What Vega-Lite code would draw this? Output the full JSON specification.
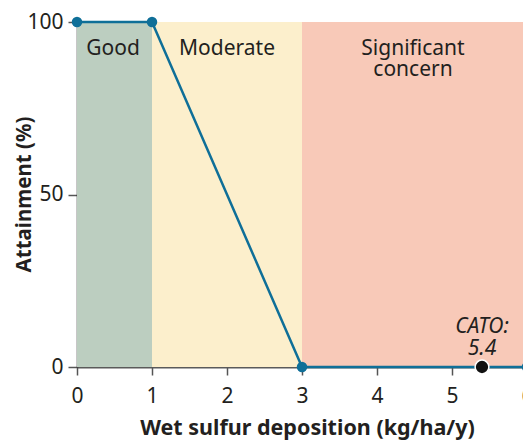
{
  "$schema": "https://vega.github.io/schema/vega-lite/v6.json",
  "width": 446,
  "height": 345,
  "autosize": {"type": "none"},
  "padding": {"left": 77, "top": 22, "right": 0, "bottom": 74},
  "background": "white",
  "config": {
    "view": {"stroke": null},
    "font": "Noto Sans",
    "axis": {
      "grid": false,
      "labelFont": "Noto Sans",
      "labelFontSize": 21,
      "labelColor": "#231f20",
      "labelFlush": false,
      "titleFont": "Noto Sans",
      "titleFontWeight": "bold",
      "titleColor": "#231f20",
      "tickColor": "#555555",
      "tickWidth": 1.5
    }
  },
  "datasets": {
    "bands": [
      {"zone": "Good", "start": 0, "end": 1, "bottom": 0, "top": 100},
      {"zone": "Moderate", "start": 1, "end": 3, "bottom": 0, "top": 100},
      {"zone": "Significant concern", "start": 3, "end": 6, "bottom": 0, "top": 100}
    ],
    "curve": [
      {"deposition": 0, "attainment": 100},
      {"deposition": 1, "attainment": 100},
      {"deposition": 3, "attainment": 0},
      {"deposition": 6, "attainment": 0}
    ],
    "labels": [
      {"label": "Good", "deposition": 0.48, "attainment": 90.4},
      {"label": "Moderate", "deposition": 2.0, "attainment": 90.4},
      {"label": "Significant\nconcern", "deposition": 4.48, "attainment": 90.4}
    ],
    "cato": [
      {"deposition": 5.4, "attainment": 0, "label": "CATO:\n5.4"}
    ]
  },
  "layer": [
    {
      "data": {"name": "bands"},
      "mark": {"type": "rect"},
      "encoding": {
        "x": {
          "field": "start",
          "type": "quantitative",
          "scale": {"domain": [0, 6], "range": [0, 450], "nice": false, "zero": false},
          "axis": {
            "values": [0, 1, 2, 3, 4, 5, 6],
            "format": "d",
            "title": "Wet sulfur deposition (kg/ha/y)",
            "titleFontSize": 21.5,
            "domainColor": "#5a5a5a",
            "domainWidth": 2,
            "tickSize": 8,
            "labelPadding": 10,
            "titlePadding": 11,
            "titleX": 230
          }
        },
        "x2": {"field": "end"},
        "y": {
          "field": "bottom",
          "type": "quantitative",
          "scale": {"domain": [0, 100], "nice": false},
          "axis": {
            "values": [0, 50, 100],
            "title": "Attainment (%)",
            "titleFontSize": 20.5,
            "domainColor": "#231f20",
            "domainWidth": 1.5,
            "tickSize": 9,
            "labelPadding": 5,
            "titleX": -53,
            "titleY": 172,
            "titleBaseline": "middle"
          }
        },
        "y2": {"field": "top"},
        "color": {
          "field": "zone",
          "type": "nominal",
          "scale": {
            "domain": ["Good", "Moderate", "Significant concern"],
            "range": ["#bccec0", "#fcefcc", "#f8c9b8"]
          },
          "legend": null
        }
      }
    },
    {
      "data": {"name": "labels"},
      "mark": {"type": "text", "fontSize": 21, "color": "#231f20", "baseline": "alphabetic", "align": "center", "lineBreak": "\n", "lineHeight": 21},
      "encoding": {
        "x": {"field": "deposition", "type": "quantitative"},
        "y": {"field": "attainment", "type": "quantitative"},
        "text": {"field": "label"}
      }
    },
    {
      "data": {"name": "curve"},
      "mark": {"type": "line", "color": "#0f6f98", "strokeWidth": 2.5},
      "encoding": {
        "x": {"field": "deposition", "type": "quantitative"},
        "y": {"field": "attainment", "type": "quantitative"}
      }
    },
    {
      "data": {"name": "curve"},
      "mark": {"type": "point", "filled": true, "color": "#0f6f98", "opacity": 1, "size": 110},
      "encoding": {
        "x": {"field": "deposition", "type": "quantitative"},
        "y": {"field": "attainment", "type": "quantitative"}
      }
    },
    {
      "data": {"name": "cato"},
      "mark": {"type": "point", "filled": true, "color": "#111111", "opacity": 1, "size": 190, "stroke": "white", "strokeWidth": 1.5},
      "encoding": {
        "x": {"field": "deposition", "type": "quantitative"},
        "y": {"field": "attainment", "type": "quantitative"}
      }
    },
    {
      "data": {"name": "cato"},
      "mark": {"type": "text", "fontSize": 21, "fontStyle": "italic", "color": "#231f20", "baseline": "alphabetic", "align": "center", "lineBreak": "\n", "lineHeight": 22, "dy": -34},
      "encoding": {
        "x": {"field": "deposition", "type": "quantitative"},
        "y": {"field": "attainment", "type": "quantitative"},
        "text": {"field": "label"}
      }
    }
  ]
}
